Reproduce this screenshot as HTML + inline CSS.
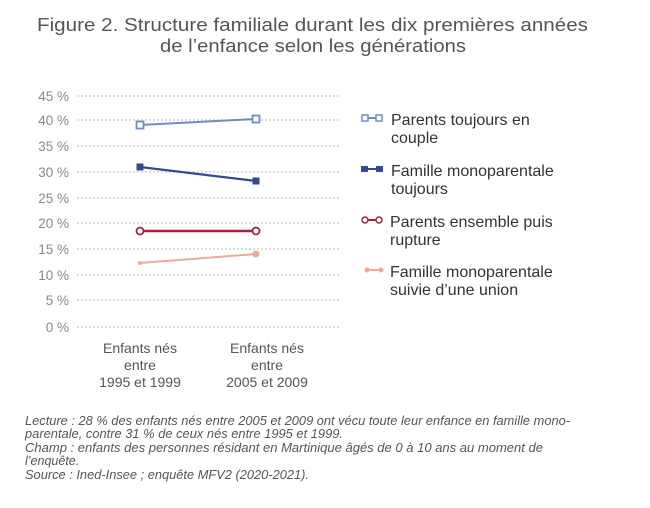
<!DOCTYPE html>
<html><head><meta charset="utf-8"><style>
body{margin:0;background:#fff;width:650px;height:503px;overflow:hidden;font-family:"Liberation Sans",sans-serif;}
</style></head><body>
<svg width="650" height="503" xmlns="http://www.w3.org/2000/svg" font-family="Liberation Sans, sans-serif">
<text x="37" y="31" font-size="18.5" fill="#555" textLength="551" lengthAdjust="spacingAndGlyphs">Figure 2. Structure familiale durant les dix premières années</text>
<text x="160" y="52" font-size="18.5" fill="#555" textLength="306" lengthAdjust="spacingAndGlyphs">de l’enfance selon les générations</text>
<g stroke="#c8c8c8" stroke-width="1.3" stroke-dasharray="2,2">
<line x1="77" x2="340" y1="96" y2="96"/><line x1="77" x2="340" y1="120" y2="120"/>
<line x1="77" x2="340" y1="146" y2="146"/><line x1="77" x2="340" y1="172" y2="172"/>
<line x1="77" x2="340" y1="198" y2="198"/><line x1="77" x2="340" y1="223" y2="223"/>
<line x1="77" x2="340" y1="249" y2="249"/><line x1="77" x2="340" y1="275" y2="275"/>
<line x1="77" x2="340" y1="300" y2="300"/><line x1="77" x2="340" y1="327" y2="327"/>
</g>
<g font-size="13.5" fill="#888" text-anchor="end">
<text x="69" y="101">45 %</text><text x="69" y="125">40 %</text><text x="69" y="151">35 %</text>
<text x="69" y="177">30 %</text><text x="69" y="203">25 %</text><text x="69" y="228">20 %</text>
<text x="69" y="254">15 %</text><text x="69" y="280">10 %</text><text x="69" y="305">5 %</text>
<text x="69" y="332">0 %</text></g>
<line x1="140" y1="125" x2="256" y2="119" stroke="#6f8cc4" stroke-width="2"/>
<rect x="136.5" y="121.5" width="7" height="7" fill="#fff" stroke="#6f8cc4" stroke-width="1.8"/>
<rect x="252.5" y="115.5" width="7" height="7" fill="#fff" stroke="#6f8cc4" stroke-width="1.8"/>
<line x1="140" y1="167" x2="256" y2="181" stroke="#34499a" stroke-width="2.2"/>
<rect x="136.5" y="163.5" width="7" height="7" fill="#34499a"/><rect x="252.5" y="177.5" width="7" height="7" fill="#34499a"/>
<line x1="140" y1="231" x2="256" y2="231" stroke="#a3243f" stroke-width="2.5"/>
<circle cx="140" cy="231" r="3.5" fill="#fff" stroke="#a3243f" stroke-width="1.8"/>
<circle cx="256" cy="231" r="3.5" fill="#fff" stroke="#a3243f" stroke-width="1.8"/>
<line x1="140" y1="263" x2="256" y2="254" stroke="#eda99a" stroke-width="2"/>
<circle cx="140" cy="263" r="2" fill="#eda99a"/><circle cx="256" cy="254" r="3.5" fill="#eda99a"/>
<g font-size="14" fill="#555" text-anchor="middle">
<text x="140" y="353">Enfants nés</text><text x="140" y="370">entre</text><text x="140" y="387">1995 et 1999</text>
<text x="267" y="353">Enfants nés</text><text x="267" y="370">entre</text><text x="267" y="387">2005 et 2009</text></g>
<g font-size="16" fill="#333">
<line x1="362" y1="118" x2="382" y2="118" stroke="#6f8cc4" stroke-width="2"/>
<rect x="362" y="115" width="6" height="6" fill="#fff" stroke="#6f8cc4" stroke-width="1.5"/>
<rect x="376" y="115" width="6" height="6" fill="#fff" stroke="#6f8cc4" stroke-width="1.5"/>
<text x="391" y="125">Parents toujours en</text><text x="391" y="143">couple</text>
<line x1="362" y1="169" x2="382" y2="169" stroke="#34499a" stroke-width="2"/>
<rect x="361" y="166" width="7" height="6" fill="#34499a"/><rect x="376" y="166" width="7" height="6" fill="#34499a"/>
<text x="391" y="176">Famille monoparentale</text><text x="391" y="194">toujours</text>
<line x1="362" y1="220" x2="382" y2="220" stroke="#a3243f" stroke-width="2"/>
<circle cx="365" cy="220" r="3" fill="#fff" stroke="#a3243f" stroke-width="1.5"/>
<circle cx="379" cy="220" r="3" fill="#fff" stroke="#a3243f" stroke-width="1.5"/>
<text x="390" y="227">Parents ensemble puis</text><text x="390" y="245">rupture</text>
<line x1="365" y1="270" x2="383" y2="270" stroke="#eda99a" stroke-width="2"/>
<circle cx="367" cy="270" r="2.5" fill="#eda99a"/><circle cx="381" cy="270" r="2.5" fill="#eda99a"/>
<text x="390" y="277">Famille monoparentale</text><text x="390" y="295">suivie d’une union</text></g>
<g font-size="12.5" fill="#555" font-style="italic">
<text x="25" y="425" textLength="545" lengthAdjust="spacingAndGlyphs">Lecture : 28 % des enfants nés entre 2005 et 2009 ont vécu toute leur enfance en famille mono-</text>
<text x="25" y="438" textLength="318" lengthAdjust="spacingAndGlyphs">parentale, contre 31 % de ceux nés entre 1995 et 1999.</text>
<text x="25" y="452" textLength="518" lengthAdjust="spacingAndGlyphs">Champ : enfants des personnes résidant en Martinique âgés de 0 à 10 ans au moment de</text>
<text x="25" y="465">l’enquête.</text>
<text x="25" y="479" textLength="284" lengthAdjust="spacingAndGlyphs">Source : Ined-Insee ; enquête MFV2 (2020-2021).</text></g>
</svg>
</body></html>
